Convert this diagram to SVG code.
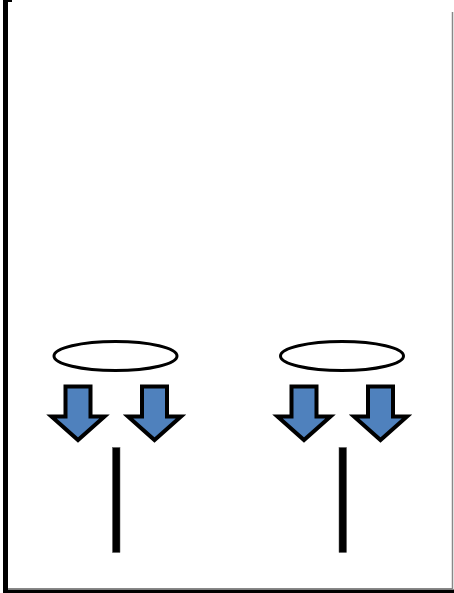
<svg xmlns="http://www.w3.org/2000/svg" width="454" height="593" viewBox="0 0 454 593">
<style>
.frame{fill:#000}
.ring{fill:none;stroke:#000;stroke-width:3}
.arrow{fill:#4F81BD;stroke:#000;stroke-width:4;stroke-linejoin:miter}
.bar{fill:#000;stroke:#555;stroke-width:0.5}
</style>
<defs>
<path id="arr" class="arrow" d="M-12.5,386.5 H12.5 V416.5 H26.5 L0,440 L-26.5,416.5 H-12.5 Z"/>
</defs>
<rect width="454" height="593" fill="#fff"/>
<g id="frame">
<rect class="frame" x="3" y="0" width="5" height="593"/>
<rect class="frame" x="3" y="0" width="9" height="2"/>
<rect class="frame" x="3" y="589.5" width="451" height="3.5"/>
<line x1="452.5" y1="12" x2="452.5" y2="590" stroke="#888" stroke-width="1.5"/>
<line x1="8" y1="588.5" x2="453" y2="588.5" stroke="#888" stroke-width="1"/>
</g>
<g id="left-unit">
<ellipse class="ring" cx="115.5" cy="356" rx="61.5" ry="14.5"/>
<use href="#arr" x="78"/>
<use href="#arr" x="154.5"/>
<rect class="bar" x="112.5" y="447.5" width="7.5" height="105"/>
</g>
<g id="right-unit">
<ellipse class="ring" cx="342" cy="356" rx="61.5" ry="14.5"/>
<use href="#arr" x="304"/>
<use href="#arr" x="380.5"/>
<rect class="bar" x="339" y="447.5" width="7.5" height="105"/>
</g>
<g id="connectors"></g>
</svg>
